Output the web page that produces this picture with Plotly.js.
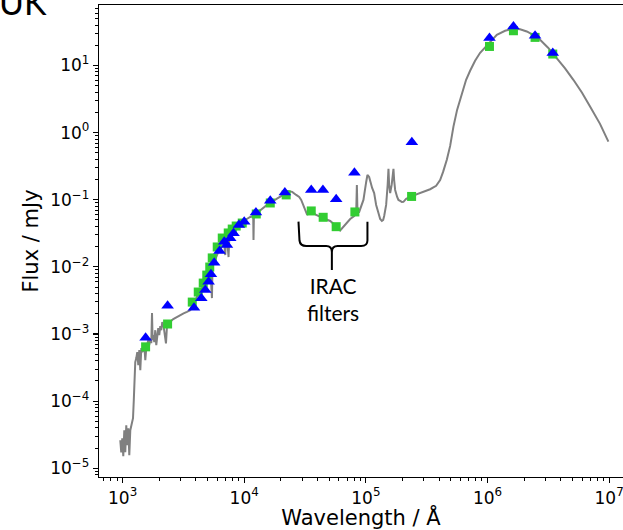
<!DOCTYPE html>
<html>
<head>
<meta charset="utf-8">
<script src="https://cdn.plot.ly/plotly-3.0.1.min.js"></script>
<style>html,body{margin:0;padding:0;background:#fff;}#chart{width:623px;height:530px;}</style>
</head>
<body>
<div id="chart"></div>
<script>
// ---- model SED (grey line) ----
const modelWavelength = [957,975,994,1013,1033,1052,1072,1093,1114,1135,1157,1179,1218,1236,1248,1271,1296,1321,1346,1372,1398,1425,1452,1480,1508,1537,1566,1596,1626,1657,1689,1721,1745,1765,1787,1822,1856,1892,1928,1964,2002,2040,2079,2119,2173,2273,2328,2466,2610,2799,2980,3172,3381,3598,3808,3954,4110,4350,4519,4693,4875,5063,5267,5428,5489,5668,5888,6115,6347,6592,6848,6980,7063,7244,7430,7530,7820,8121,8433,8760,9098,9270,10190,11200,11850,11920,12010,13030,14320,15760,17330,19020,20900,23000,24800,26740,28310,29400,30540,31720,32940,34210,36220,39060,42130,46320,50910,54920,58100,61490,65120,69830,74320,80170,83250,84350,85330,88100,91490,95500,100600,103000,106400,108400,112600,117000,121500,126900,131100,135400,138800,141400,146800,151000,153400,155400,158400,163000,168600,170800,174100,180800,185300,191300,197500,203700,214400,235600,279300,337600,378300,407800,431500,463000,493200,524800,562300,615200,667000,719500,790700,869600,955500,1030000,1193000,1395000,1633000,1854000,2104000,2370000,2707000,3148000,3711000,4342000,5080000,5988000,6966000,8414000,9860000];
const modelFlux = [2.62e-5,1.73e-5,2.80e-5,1.51e-5,3.69e-5,1.73e-5,4.38e-5,2.20e-5,3.95e-5,1.56e-5,3.69e-5,4.38e-5,5.57e-5,1.03e-4,2.44e-4,3.81e-4,4.38e-4,5.37e-4,3.44e-4,5.75e-4,2.90e-4,6.16e-4,5.37e-4,5.75e-4,6.84e-4,4.08e-4,6.16e-4,7.31e-4,8.11e-4,6.84e-4,8.69e-4,7.31e-4,2.05e-3,8.11e-4,9.64e-4,7.57e-4,1.14e-3,6.84e-4,1.07e-3,1.22e-3,9.64e-4,1.31e-3,1.14e-3,1.51e-3,1.31e-3,7.24e-4,1.51e-3,1.52e-3,1.67e-3,1.81e-3,1.91e-3,2.03e-3,2.14e-3,2.27e-3,2.61e-3,3.10e-3,3.68e-3,4.22e-3,4.84e-3,5.74e-3,6.82e-3,7.82e-3,9.29e-3,3.43e-3,1.03e-2,1.18e-2,1.45e-2,1.67e-2,1.85e-2,2.05e-2,2.27e-2,1.50e-2,2.35e-2,2.51e-2,1.40e-2,2.60e-2,2.88e-2,3.09e-2,3.43e-2,3.80e-2,4.21e-2,4.36e-2,5.00e-2,5.54e-2,5.73e-2,2.51e-2,5.73e-2,6.58e-2,7.55e-2,8.66e-2,9.60e-2,0.106,0.118,0.135,0.131,0.118,0.110,9.93e-2,8.37e-2,6.81e-2,5.93e-2,6.58e-2,6.58e-2,5.93e-2,5.54e-2,5.17e-2,4.83e-2,4.36e-2,3.93e-2,3.48e-2,3.93e-2,4.51e-2,5.17e-2,5.73e-2,6.36e-2,0.166,6.58e-2,6.58e-2,7.81e-2,9.93e-2,0.184,0.234,0.219,0.191,0.150,0.126,8.37e-2,6.36e-2,5.17e-2,4.83e-2,5.00e-2,5.73e-2,8.37e-2,0.166,0.288,0.166,0.126,0.166,0.288,0.197,0.140,0.110,9.93e-2,9.60e-2,9.27e-2,9.3e-2,0.103,0.112,0.126,0.1435,0.161,0.197,0.260,0.393,0.634,1.23,2.18,3.92,6.12,8.33,11.75,15.46,18.68,21.6,28.7,32.9,35.3,34.7,32.1,28.7,24.2,18.4,13.0,9.08,6.12,3.92,2.45,1.35,0.735];

// ---- green squares ----
const sqWavelength = [1546,2344,3739,4188,4602,4920,5206,5456,5998,6596,7387,7966,8590,9630,12560,16370,22130,35560,44570,57000,81230,237700,1038000,1634000,2461000,3440000];
const sqFlux = [6.44e-4,1.41e-3,2.99e-3,4.22e-3,5.74e-3,7.55e-3,9.95e-3,1.36e-2,1.98e-2,2.69e-2,3.20e-2,3.66e-2,4.06e-2,4.5e-2,6.14e-2,8.95e-2,0.118,6.81e-2,5.48e-2,3.97e-2,6.58e-2,0.112,19.2,32.9,26.2,14.8];

// ---- blue triangles ----
const triWavelength = [1546,2344,3864,4436,4786,5093,5325,5662,6263,6850,7207,7674,8166,9042,10000,12480,16370,21580,35560,44360,57000,80540,238800,1038000,1634000,2461000,3440000];
const triFlux = [8.77e-4,2.64e-3,2.46e-3,3.40e-3,4.52e-3,6.01e-3,7.74e-3,1.15e-2,1.72e-2,2.37e-2,2.12e-2,2.67e-2,3.16e-2,4.21e-2,4.71e-2,6.43e-2,9.70e-2,0.128,0.140,0.140,0.102,0.2535,0.720,25.6,38.2,27.7,15.3];

// ---- tick labels ----
const xTickVals = [1e3,1e4,1e5,1e6,1e7];
const xTickText = ['10<sup>3</sup>','10<sup>4</sup>','10<sup>5</sup>','10<sup>6</sup>','10<sup>7</sup>'];
const yTickVals = [1e-5,1e-4,1e-3,1e-2,1e-1,1e0,1e1];
const yTickText = ['10<sup>\u22125</sup>','10<sup>\u22124</sup>','10<sup>\u22123</sup>','10<sup>\u22122</sup>','10<sup>\u22121</sup>','10<sup>0</sup>','10<sup>1</sup>'];

function minorVals(lo, hi){
  const v=[];
  for(let e=lo;e<=hi;e++){for(let m=2;m<=9;m++){v.push(m*Math.pow(10,e));}}
  return v;
}

const W=623,H=530,L=98.7,R=623,T=5.3,B=476.7;
function px(x){return (x-L)/(R-L);}
function py(y){return (B-y)/(B-T);}

// brace path in paper coordinates
const bracePts = [
  ['M',298.3,221.7],['L',299.3,240.5],['Q',300,246,306,246],['L',326,246],['Q',331.7,246,331.7,252],
  ['L',331.7,270],['M',331.7,252],['Q',331.7,246,337.5,246],['L',361,246],['Q',367.3,246,367.3,240.5],['L',367.3,221.7]
];
let bracePath='';
bracePts.forEach(p=>{
  bracePath += p[0];
  for(let i=1;i<p.length;i+=2){bracePath += ' '+px(p[i]).toFixed(5)+','+py(p[i+1]).toFixed(5)+' ';}
});

const traces = [
  {x:modelWavelength,y:modelFlux,type:'scatter',mode:'lines',line:{color:'#808080',width:2},hoverinfo:'skip'},
  {x:sqWavelength,y:sqFlux,type:'scatter',mode:'markers',marker:{symbol:'square',color:'#32cd32',size:9,line:{width:0}}},
  {x:triWavelength,y:triFlux,type:'scatter',mode:'markers',marker:{symbol:'triangle-up',color:'#0000ff',size:11,line:{width:0}}}
];

const layout = {
  width:W,height:H,
  margin:{l:L,r:0,t:T,b:H-B,pad:0},
  paper_bgcolor:'#fff',plot_bgcolor:'#fff',
  showlegend:false,
  xaxis:{type:'log',range:[2.806,7.114],showgrid:false,zeroline:false,
    showline:true,linecolor:'#000',linewidth:1.2,mirror:true,
    ticks:'outside',ticklen:5,tickwidth:1.2,tickcolor:'#000',
    tickmode:'array',tickvals:xTickVals,ticktext:xTickText,ticklabeloverflow:'allow',
    tickfont:{family:'DejaVu Sans',size:17,color:'#000'},
    minor:{tickmode:'array',tickvals:minorVals(2,7),ticks:'outside',ticklen:3,tickwidth:1,tickcolor:'#000',showgrid:false},
    title:{text:'Wavelength / Å',font:{family:'DejaVu Sans',size:21,color:'#000'},standoff:10}},
  yaxis:{type:'log',range:[-5.1297,1.9008],showgrid:false,zeroline:false,
    showline:true,linecolor:'#000',linewidth:1.2,
    ticks:'outside',ticklen:5,tickwidth:1.2,tickcolor:'#000',
    tickmode:'array',tickvals:yTickVals,ticktext:yTickText,
    tickfont:{family:'DejaVu Sans',size:17,color:'#000'},
    minor:{tickmode:'array',tickvals:minorVals(-6,1),ticks:'outside',ticklen:3,tickwidth:1,tickcolor:'#000',showgrid:false},
    title:{text:'Flux / mJy',font:{family:'DejaVu Sans',size:21,color:'#000'},standoff:5}},
  shapes:[{type:'path',xref:'paper',yref:'paper',path:bracePath,line:{color:'#000',width:2}}],
  annotations:[
    {xref:'paper',yref:'paper',x:px(333),y:py(299),xanchor:'center',yanchor:'middle',showarrow:false,
     text:'IRAC<br>filters',font:{family:'Lato',size:21,color:'#000'}},
    {xref:'paper',yref:'paper',x:px(-3),y:py(2),xanchor:'left',yanchor:'middle',showarrow:false,
     text:'UK',font:{family:'Lato',size:34,color:'#000'}}
  ]
};

Plotly.newPlot('chart',traces,layout,{displayModeBar:false,staticPlot:true});
</script>
</body>
</html>
